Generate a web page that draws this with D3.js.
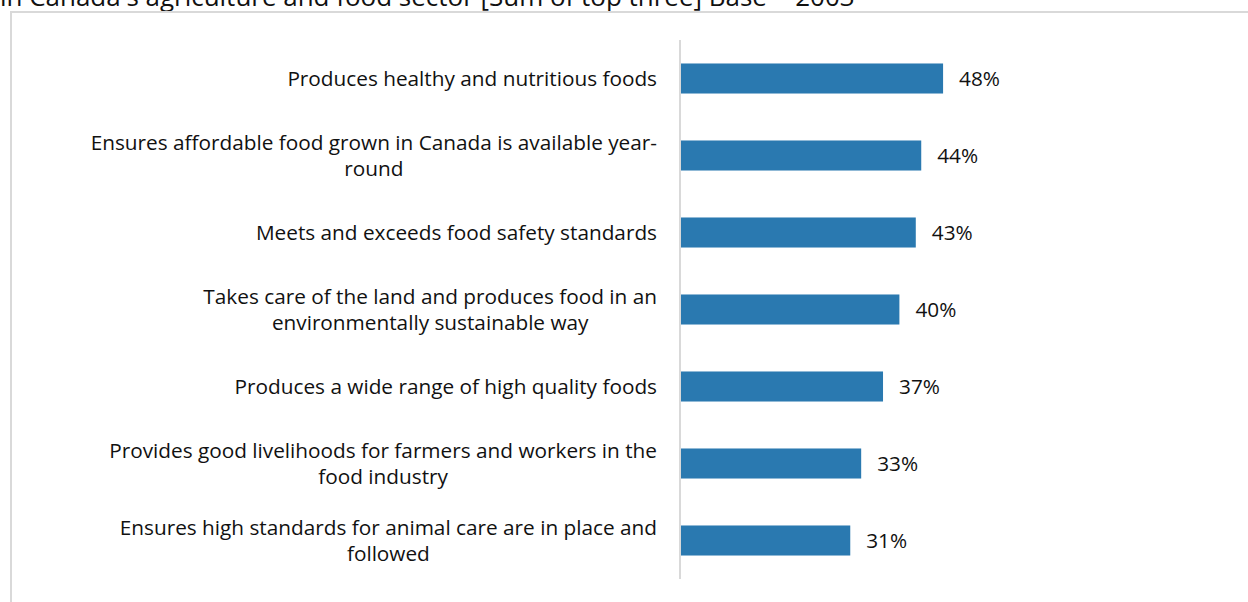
<!DOCTYPE html>
<html>
<head>
<meta charset="utf-8">
<script src="https://cdn.jsdelivr.net/npm/d3@7"></script>
<style>
  html, body { margin: 0; padding: 0; background: #fff; }
  svg { display: block; }
  text { font-family: "Open Sans", Lato, sans-serif; fill: #111; }
</style>
</head>
<body>
<svg id="chart" width="1248" height="602"></svg>
<script>
// Attributes of Canada's agriculture and food sector (sum of top three)
const categories = [
  ["Produces healthy and nutritious foods"],
  ["Ensures affordable food grown in Canada is available year-", "round"],
  ["Meets and exceeds food safety standards"],
  ["Takes care of the land and produces food in an", "environmentally sustainable way"],
  ["Produces a wide range of high quality foods"],
  ["Provides good livelihoods for farmers and workers in the", "food industry"],
  ["Ensures high standards for animal care are in place and", "followed"]
];
const values = [48, 44, 43, 40, 37, 33, 31];
const titleText = "in Canada's agriculture and food sector [Sum of top three] Base = 2003";

const svg = d3.select("#chart");
const lineGap = 26;

// Pick a font size that gives a text the wanted width
function fitSize(str, width, base) {
  const t = svg.append("text").style("font-size", base + "px").text(str);
  const w = t.node().getComputedTextLength();
  t.remove();
  return base * width / w;
}
const fontSize = fitSize("Produces healthy and nutritious foods", 370, 18);
const titleSize = fitSize(titleText, 855, 20);

// Title, partly clipped by the top edge
svg.append("text")
  .attr("x", 0)
  .attr("y", 6)
  .style("font-size", titleSize + "px")
  .text(titleText);

// Chart frame running off the right and bottom edges
svg.append("rect")
  .attr("x", 11)
  .attr("y", 12)
  .attr("width", 1260)
  .attr("height", 620)
  .attr("fill", "none")
  .attr("stroke", "#d9d9d9")
  .attr("stroke-width", 2);

const keys = categories.map((d, i) => i);
const x = d3.scaleLinear().domain([0, 50]).range([681, 954]);
const y = d3.scaleBand().domain(keys).range([40, 579])
  .paddingInner(0.61).paddingOuter(0.305);

// Bars
svg.append("g").selectAll("rect")
  .data(values)
  .join("rect")
  .attr("x", x(0))
  .attr("y", (d, i) => y(i))
  .attr("width", d => x(d) - x(0))
  .attr("height", y.bandwidth())
  .attr("fill", "#2a79b0");

// Vertical category axis line
svg.append("line")
  .attr("x1", 680).attr("x2", 680)
  .attr("y1", 40).attr("y2", 579)
  .attr("stroke", "#d9d9d9")
  .attr("stroke-width", 2);

// Value labels
svg.append("g").selectAll("text")
  .data(values)
  .join("text")
  .attr("x", d => x(d) + 16)
  .attr("y", (d, i) => y(i) + y.bandwidth() / 2)
  .attr("dy", "0.35em")
  .style("font-size", fontSize + "px")
  .text(d => d + "%");

// Category labels: centred lines, block right-aligned against the axis
const labelRight = 657;
const labels = svg.append("g");
categories.forEach((lines, i) => {
  const cy = y(i) + y.bandwidth() / 2;
  const g = labels.append("g");
  const texts = lines.map((ln, j) => g.append("text")
    .attr("y", cy + (j - (lines.length - 1) / 2) * lineGap)
    .attr("dy", "0.35em")
    .attr("text-anchor", "middle")
    .style("font-size", fontSize + "px")
    .text(ln));
  const w = d3.max(texts, t => t.node().getComputedTextLength());
  texts.forEach(t => t.attr("x", labelRight - w / 2));
});
</script>
</body>
</html>
